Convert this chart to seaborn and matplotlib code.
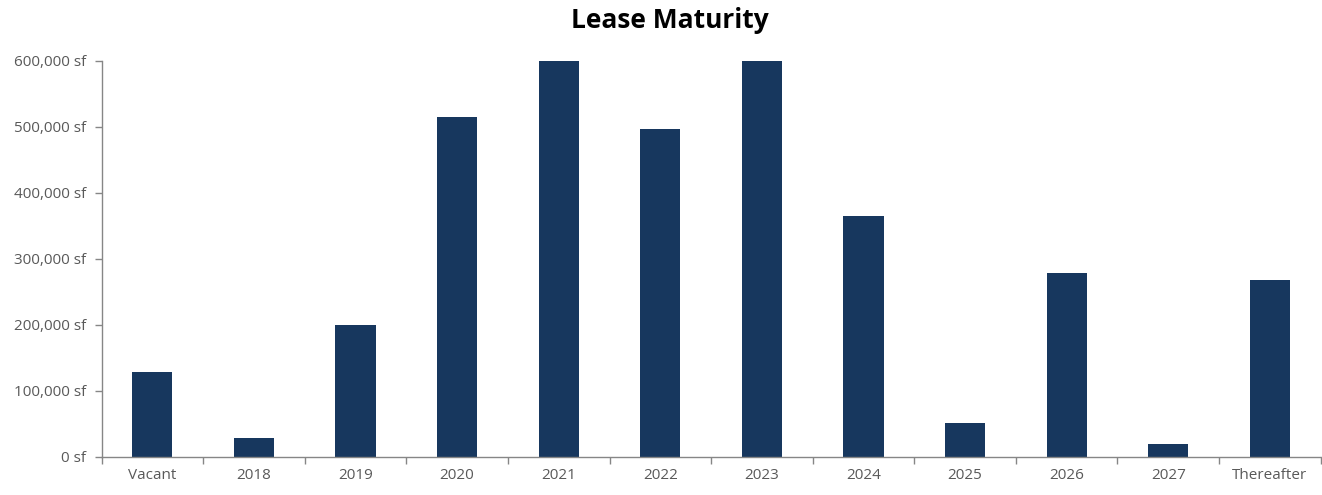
import matplotlib
matplotlib.use("Agg")
import matplotlib.pyplot as plt
import seaborn as sns
import pandas as pd
from matplotlib.ticker import FuncFormatter, FixedLocator

categories = ["Vacant", "2018", "2019", "2020", "2021", "2022", "2023",
              "2024", "2025", "2026", "2027", "Thereafter"]
square_feet = [129000, 29000, 200000, 515000, 600000, 497000, 600000,
               365000, 51000, 279000, 20000, 268000]
y_ticks = [0, 100000, 200000, 300000, 400000, 500000, 600000]

df = pd.DataFrame({"category": categories, "sf": square_feet})

sns.set_theme(style="white")
plt.rcParams["font.family"] = ["Open Sans", "DejaVu Sans"]

fig = plt.figure(figsize=(13.22, 4.95), dpi=100)
ax = fig.add_axes([0.0768, 0.0768, 0.9222, 0.800])

sns.barplot(data=df, x="category", y="sf", color="#17375e", width=0.395,
            saturation=1, linewidth=0, ax=ax)

ax.set_ylim(0, 600000)
ax.set_xlim(-0.5, len(categories) - 0.5)
ax.set_yticks(y_ticks)
ax.yaxis.set_major_formatter(FuncFormatter(lambda v, p: f"{int(v):,} sf"))

grey = "#868686"
text_grey = "#595959"
for side in ["top", "right"]:
    ax.spines[side].set_visible(False)
for side in ["left", "bottom"]:
    ax.spines[side].set_color(grey)
    ax.spines[side].set_linewidth(1.0)

# Category tick marks sit on the boundaries between bars
ax.xaxis.set_minor_locator(FixedLocator([i - 0.5 for i in range(len(categories) + 1)]))
ax.tick_params(axis="x", which="major", length=0, pad=8, labelsize=11, labelcolor=text_grey)
ax.tick_params(axis="x", which="minor", length=5, color=grey, width=1, direction="out", bottom=True)
ax.tick_params(axis="y", which="major", length=5, color=grey, width=1, direction="out",
               left=True, pad=6, labelsize=11, labelcolor=text_grey)

ax.set_xlabel("")
ax.set_ylabel("")
fig.suptitle("Lease Maturity", x=0.507, y=0.985, fontsize=19, fontweight="bold", color="#000000")

fig.savefig("out.png", dpi=100)
